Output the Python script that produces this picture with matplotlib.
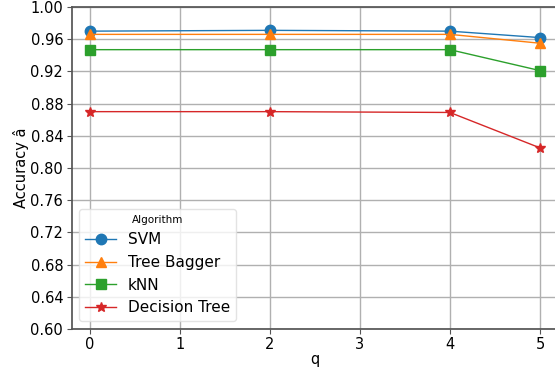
import matplotlib
matplotlib.use("Agg")
import matplotlib.pyplot as plt

q = [0, 2, 4, 5]
svm = [0.970, 0.971, 0.970, 0.962]
tree_bagger = [0.966, 0.966, 0.966, 0.955]
knn = [0.947, 0.947, 0.947, 0.921]
decision_tree = [0.870, 0.870, 0.869, 0.825]
yticks = [0.60, 0.64, 0.68, 0.72, 0.76, 0.80, 0.84, 0.88, 0.92, 0.96, 1.00]

fig = plt.figure(figsize=(5.55, 3.70), dpi=100)
ax = fig.add_axes([71.5/555, (370-329)/370, (558-71.5)/555, (329-7)/370])

ms = 7.5
ax.plot(q, svm, color='#1f77b4', marker='o', markersize=ms, lw=1, label='SVM')
ax.plot(q, tree_bagger, color='#ff7f0e', marker='^', markersize=ms, lw=1, label='Tree Bagger')
ax.plot(q, knn, color='#2ca02c', marker='s', markersize=ms, lw=1, label='kNN')
ax.plot(q, decision_tree, color='#d62728', marker='*', markersize=ms, lw=1, label='Decision Tree')

ax.set_ylim(0.60, 1.00)
ax.set_xlim(-0.2, 5.2)
ax.set_yticks(yticks)
ax.set_yticklabels([f"{v:.2f}" for v in yticks])
ax.set_xticks([0, 1, 2, 3, 4, 5])
ax.grid(True, color='#b0b0b0', lw=1)
ax.set_axisbelow(True)
for s in ax.spines.values():
    s.set_color('#555555')
    s.set_linewidth(1.25)
ax.tick_params(labelsize=10.5, color='#555555', length=3.5, pad=2.5)
ax.set_xlabel('q', fontsize=10.5, labelpad=0)
ax.set_ylabel('Accuracy â', fontsize=10.5, labelpad=1)

leg = ax.legend(title='Algorithm', fontsize=11, title_fontsize=7.5, loc='lower left',
                frameon=True, framealpha=0.8, edgecolor='#dddddd')

fig.savefig('out.png', dpi=100)
